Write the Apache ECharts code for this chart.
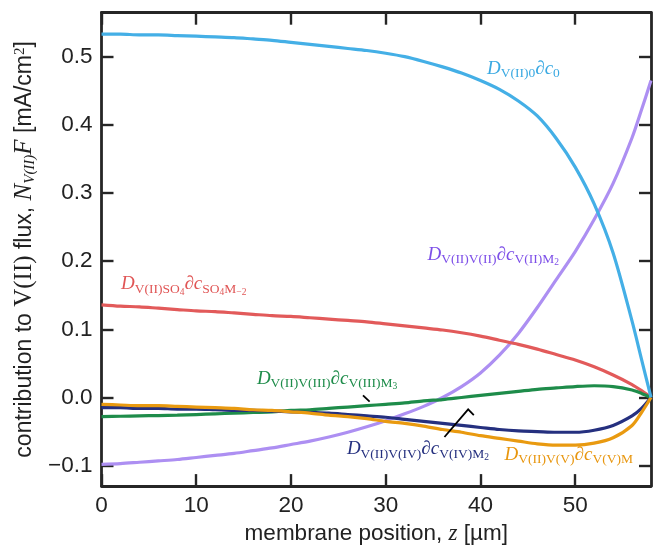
<!DOCTYPE html>
<html>
<head>
<meta charset="utf-8">
<script src="https://cdn.jsdelivr.net/npm/echarts@6/dist/echarts.min.js"></script>
<style>
html, body { margin: 0; padding: 0; background: #fff; }
#main { width: 653px; height: 550px; }
</style>
</head>
<body>
<div id="main"></div>
<script>
// membrane position z [um]
var z = [0, 2, 4, 6, 8, 10, 12, 14, 16, 18, 20, 22, 24, 26, 28, 30, 32, 34, 36, 38, 40, 42, 44, 46, 48, 50, 52, 54, 56, 57, 58];

// flux contributions [mA/cm2]
var fluxC0  = [0.533, 0.533, 0.532, 0.532, 0.531, 0.530, 0.529, 0.528, 0.526, 0.524, 0.521, 0.518, 0.515, 0.512, 0.509, 0.505, 0.500, 0.493, 0.485, 0.476, 0.465, 0.452, 0.435, 0.413, 0.380, 0.338, 0.284, 0.212, 0.112, 0.056, 0];
var fluxV2  = [-0.098, -0.097, -0.095, -0.093, -0.091, -0.088, -0.085, -0.082, -0.078, -0.074, -0.069, -0.064, -0.058, -0.051, -0.043, -0.034, -0.024, -0.013, 0.000, 0.016, 0.036, 0.062, 0.094, 0.132, 0.173, 0.214, 0.261, 0.314, 0.381, 0.422, 0.465];
var fluxSO4 = [0.136, 0.134, 0.133, 0.131, 0.129, 0.127, 0.126, 0.124, 0.122, 0.120, 0.119, 0.117, 0.115, 0.113, 0.111, 0.108, 0.105, 0.102, 0.099, 0.095, 0.090, 0.084, 0.078, 0.071, 0.063, 0.055, 0.045, 0.033, 0.019, 0.010, 0];
var fluxV3  = [-0.028, -0.0275, -0.027, -0.0265, -0.026, -0.025, -0.024, -0.023, -0.022, -0.021, -0.019, -0.018, -0.016, -0.014, -0.012, -0.010, -0.008, -0.005, -0.003, 0.000, 0.003, 0.006, 0.009, 0.012, 0.014, 0.016, 0.0172, 0.016, 0.011, 0.006, 0];
var fluxV4  = [-0.015, -0.015, -0.016, -0.016, -0.017, -0.017, -0.018, -0.019, -0.019, -0.020, -0.021, -0.022, -0.023, -0.025, -0.027, -0.029, -0.032, -0.035, -0.038, -0.041, -0.044, -0.047, -0.049, -0.050, -0.051, -0.051, -0.048, -0.041, -0.027, -0.016, 0];
var fluxV5  = [-0.010, -0.011, -0.012, -0.012, -0.013, -0.014, -0.015, -0.016, -0.018, -0.019, -0.021, -0.023, -0.026, -0.028, -0.031, -0.035, -0.038, -0.042, -0.047, -0.051, -0.056, -0.060, -0.064, -0.068, -0.070, -0.070, -0.067, -0.059, -0.041, -0.022, 0];

var xTicks = [0, 10, 20, 30, 40, 50];
var yTicks = [-0.1, 0, 0.1, 0.2, 0.3, 0.4, 0.5];

function pairs(ys) {
  var out = [];
  for (var i = 0; i < z.length; i++) out.push([z[i], ys[i]]);
  return out;
}

var ink = '#262626';
var serif = '"Liberation Serif", "DejaVu Serif", serif';
var sans = '"Liberation Sans", Arial, sans-serif';

// rich styles for the math labels (graphic text uses fill)
function richFor(color) {
  return {
    i:  { fontFamily: serif, fontStyle: 'italic', fontSize: 19, lineHeight: 26, fill: color, verticalAlign: 'middle' },
    s:  { fontFamily: serif, fontSize: 13.5, lineHeight: 14, fill: color, verticalAlign: 'bottom', padding: [0, 0, 1, 0] },
    ss: { fontFamily: serif, fontSize: 9.5, lineHeight: 10, fill: color, verticalAlign: 'bottom' }
  };
}

var labels = [
  { text: '{i|D}{s|V(II)0}{i|∂c}{s|0}', color: '#3aa9e2', at: [40.7, 0.482] },
  { text: '{i|D}{s|V(II)V(II)}{i|∂c}{s|V(II)M}{ss|2}', color: '#7d4fe8', at: [34.4, 0.2096] },
  { text: '{i|D}{s|V(II)SO}{ss|4}{i|∂c}{s|SO}{ss|4}{s|M}{ss|−2}', color: '#e05555', at: [2.06, 0.1658] },
  { text: '{i|D}{s|V(II)V(III)}{i|∂c}{s|V(III)M}{ss|3}', color: '#1e8c4a', at: [16.4, 0.0278] },
  { text: '{i|D}{s|V(II)V(IV)}{i|∂c}{s|V(IV)M}{ss|2}', color: '#25307f', at: [25.9, -0.076] },
  { text: '{i|D}{s|V(II)V(V)}{i|∂c}{s|V(V)M}', color: '#e8960e', at: [42.55, -0.084] }
];

// pointer strokes from labels to curves
var pointers = [
  [[27.6, 0.003], [28.3, -0.006]],
  [[36.2, -0.058], [38.7, -0.0175], [39.3, -0.026]]
];

var chart = echarts.init(document.getElementById('main'));

function axisCommon(extra) {
  var base = {
    type: 'value',
    axisLine: { show: true, onZero: false, lineStyle: { color: ink, width: 2.8 } },
    splitLine: { show: false }
  };
  for (var k in extra) base[k] = extra[k];
  return base;
}

function ticks(values) {
  return { show: true, inside: true, length: 12, customValues: values, lineStyle: { color: ink, width: 2.4 } };
}

function yFmt(v) {
  return (v < 0 ? '−' : '') + Math.abs(v).toFixed(1);
}

function line(name, data, color) {
  return {
    name: name,
    type: 'line',
    data: pairs(data),
    smooth: 0.3,
    showSymbol: false,
    lineStyle: { color: color, width: 3.2 },
    itemStyle: { color: color },
    z: 3
  };
}

chart.setOption({
  animation: false,
  backgroundColor: '#fff',
  grid: { left: 101.5, right: 2, top: 12.7, bottom: 62 },
  xAxis: [
    axisCommon({
      min: 0, max: 58, position: 'bottom',
      axisTick: ticks(xTicks),
      axisLabel: { customValues: xTicks, margin: 8, color: '#222', fontFamily: sans, fontSize: 22.5 },
      name: 'membrane position, {i|z} [µm]',
      nameLocation: 'middle',
      nameGap: 31,
      nameTextStyle: {
        color: '#222', fontFamily: sans, fontSize: 22.5,
        rich: { i: { fontFamily: serif, fontStyle: 'italic', fontSize: 23, color: '#222' } }
      }
    }),
    axisCommon({
      min: 0, max: 58, position: 'top',
      axisTick: ticks(xTicks),
      axisLabel: { show: false }
    })
  ],
  yAxis: [
    axisCommon({
      min: -0.13, max: 0.5645, position: 'left',
      axisTick: ticks(yTicks),
      axisLabel: { customValues: yTicks, formatter: yFmt, margin: 9, color: '#222', fontFamily: sans, fontSize: 22.5 },
      name: 'contribution to {r|V(II)} flux, {i|N}{s|V(II)}{i|F} [mA/cm{p|2}]',
      nameLocation: 'middle',
      nameGap: 51,
      nameTextStyle: {
        color: '#222', fontFamily: sans, fontSize: 23,
        rich: {
          r: { fontFamily: serif, fontSize: 25, color: '#222' },
          i: { fontFamily: serif, fontStyle: 'italic', fontSize: 25, color: '#222' },
          s: { fontFamily: serif, fontStyle: 'italic', fontSize: 15, color: '#222', verticalAlign: 'bottom' },
          p: { fontFamily: serif, fontSize: 15, color: '#222', verticalAlign: 'top' }
        }
      }
    }),
    axisCommon({
      min: -0.13, max: 0.5645, position: 'right',
      axisTick: ticks(yTicks),
      axisLabel: { show: false }
    })
  ],
  series: [
    line('V(II)M2', fluxV2, '#ad8ff2'),
    line('SO4', fluxSO4, '#e25a5a'),
    line('V(III)', fluxV3, '#1e8c4a'),
    line('V(IV)', fluxV4, '#25307f'),
    line('V(V)', fluxV5, '#e99a10'),
    line('c0', fluxC0, '#44afe6')
  ]
});

// place the annotations in data space
var graphics = [];
labels.forEach(function (lb) {
  var p = chart.convertToPixel({ gridIndex: 0 }, lb.at);
  graphics.push({
    type: 'text',
    x: p[0], y: p[1],
    z: 10,
    style: { text: lb.text, rich: richFor(lb.color), fill: lb.color, align: 'left', verticalAlign: 'middle' }
  });
});
pointers.forEach(function (pts) {
  graphics.push({
    type: 'polyline',
    z: 10,
    shape: { points: pts.map(function (d) { return chart.convertToPixel({ gridIndex: 0 }, d); }) },
    style: { stroke: '#000', lineWidth: 1.8, fill: null }
  });
});
chart.setOption({ graphic: graphics });
</script>
</body>
</html>
